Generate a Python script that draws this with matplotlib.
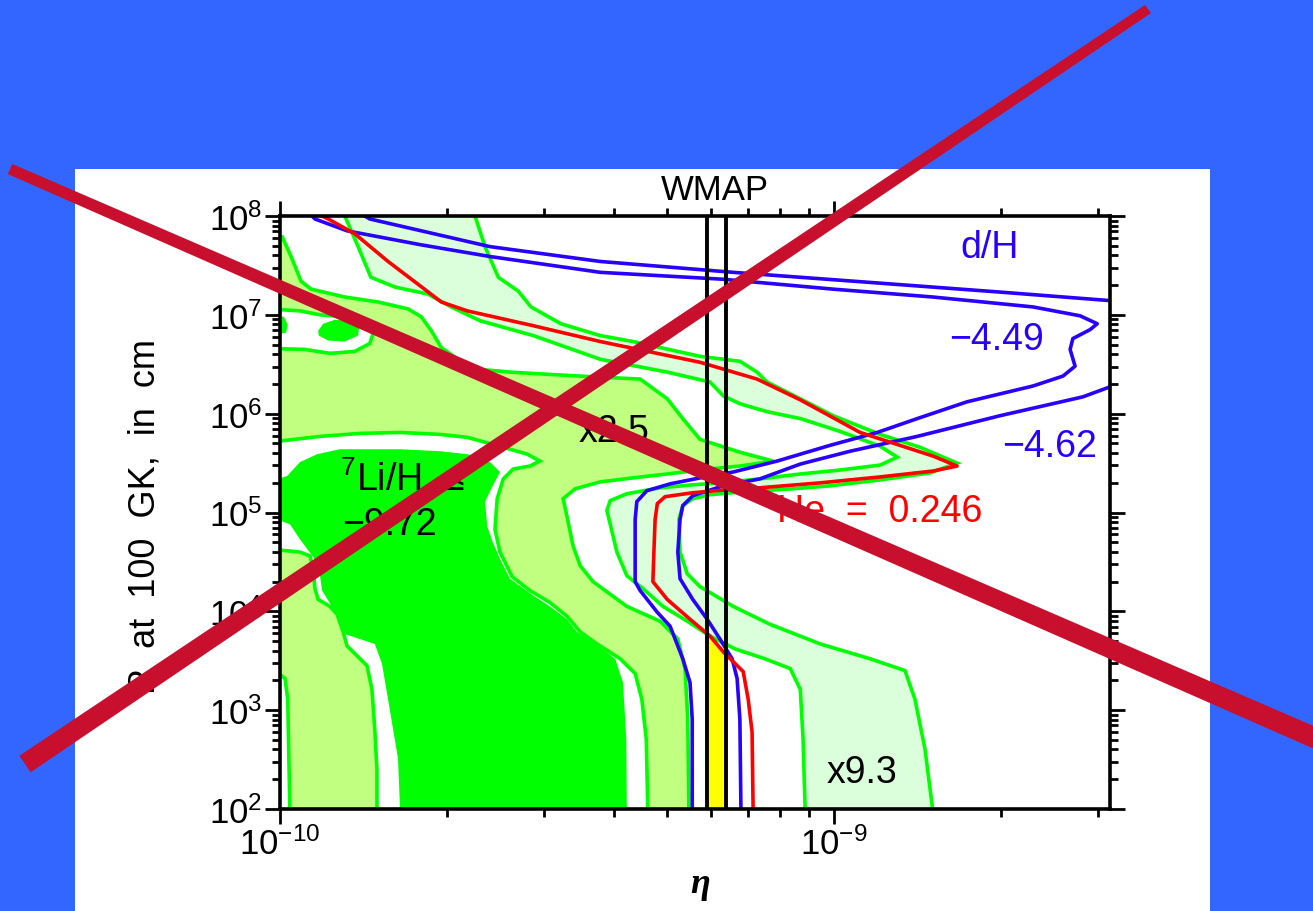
import numpy as np
import matplotlib
matplotlib.use('Agg')
import matplotlib.pyplot as plt
from matplotlib.patches import Polygon, Rectangle
from matplotlib.ticker import LogLocator, NullFormatter

plt.rcParams['font.family'] = ['Liberation Sans', 'DejaVu Sans']
plt.rcParams['mathtext.fontset'] = 'custom'
plt.rcParams['mathtext.rm'] = 'Liberation Sans'
plt.rcParams['mathtext.it'] = 'Liberation Sans:italic'
plt.rcParams['mathtext.bf'] = 'Liberation Sans:bold'
NARROW = ['Liberation Sans Narrow', 'Liberation Sans', 'DejaVu Sans']

# every contour below is given as log10(eta) and log10(R / cm)

# 7Li "x2.5" band (light green), outer edge
lg_x = [-10.02, -9.996, -9.980, -9.962, -9.944, -9.883, -9.823, -9.769, -9.745, -9.727,
        -9.709, -9.684, -9.643, -9.583, -9.522, -9.458, -9.350, -9.301, -9.273, -9.242,
        -9.170, -9.110, -9.170, -9.242, -9.301, -9.363, -9.422, -9.467, -9.489, -9.482,
        -9.471, -9.458, -9.435, -9.374, -9.314, -9.282, -9.269, -9.264, -9.262, -9.982,
        -9.984, -9.986, -9.991, -10.02]
lg_y = [7.79, 7.79, 7.59, 7.34, 7.26, 7.18, 7.13, 7.06, 6.98, 6.84,
        6.67, 6.57, 6.45, 6.42, 6.40, 6.38, 6.35, 6.15, 5.95, 5.74,
        5.61, 5.52, 5.47, 5.43, 5.39, 5.35, 5.31, 5.24, 5.14, 4.96,
        4.66, 4.46, 4.30, 4.05, 3.90, 3.72, 3.42, 2.91, 1.95, 1.95,
        2.51, 3.11, 3.32, 3.45]

# white gaps inside the x2.5 band
gap1_x = [-10.02, -9.964, -9.928, -9.883, -9.852, -9.832, -9.838, -9.865, -9.910, -9.955, -10.02]
gap1_y = [7.06, 7.04, 7.00, 6.98, 6.91, 6.81, 6.71, 6.63, 6.61, 6.65, 6.66]

gap2_x = [-10.02, -9.928, -9.856, -9.783, -9.711, -9.662, -9.603, -9.554, -9.531, -9.549,
          -9.579, -9.597, -9.608, -9.612, -9.603, -9.581, -9.549, -9.513, -9.482, -9.458,
          -9.428, -9.386, -9.359, -9.347, -9.339, -9.336, -9.825, -9.825, -9.829, -9.834,
          -9.843, -9.861, -9.879, -9.886, -9.897, -9.910, -9.931, -9.937, -9.940, -9.946,
          -9.964, -10.02]
gap2_y = [5.71, 5.77, 5.80, 5.81, 5.79, 5.76, 5.67, 5.59, 5.52, 5.47,
          5.44, 5.34, 5.14, 4.83, 4.60, 4.35, 4.21, 4.09, 3.95, 3.79,
          3.67, 3.52, 3.37, 3.11, 2.71, 1.95, 1.95, 2.40, 2.81, 3.21,
          3.45, 3.55, 3.65, 3.79, 3.97, 4.05, 4.12, 4.23, 4.43, 4.56,
          4.60, 4.63]

# 7Li/H <= -9.72 (bright green)
li_x = [-10.02, -9.987, -9.964, -9.933, -9.892, -9.783, -9.711, -9.662, -9.621, -9.603,
        -9.616, -9.630, -9.626, -9.616, -9.603, -9.585, -9.543, -9.513, -9.482, -9.464,
        -9.435, -9.395, -9.381, -9.375, -9.374, -9.783, -9.787, -9.796, -9.805, -9.816,
        -9.829, -9.883, -9.901, -9.924, -9.931, -9.964, -9.982, -10.02]
li_y = [5.31, 5.37, 5.51, 5.59, 5.64, 5.64, 5.62, 5.59, 5.51, 5.41,
        5.27, 5.11, 4.86, 4.70, 4.53, 4.33, 4.16, 4.05, 3.92, 3.79,
        3.69, 3.52, 3.28, 2.71, 1.95, 1.95, 2.51, 2.81, 3.11, 3.47,
        3.67, 3.77, 4.00, 4.21, 4.48, 4.73, 4.88, 4.96]
blob1_x = [-9.931, -9.922, -9.901, -9.874, -9.857, -9.859, -9.883, -9.913, -9.930]
blob1_y = [6.84, 6.91, 6.95, 6.94, 6.88, 6.79, 6.73, 6.74, 6.79]
blob2_x = [-10.02, -9.993, -9.986, -9.989, -10.02]
blob2_y = [7.00, 6.98, 6.90, 6.82, 6.79]

# 7Li "x9.3" band (very light green)
vlg_x = [-9.883, -9.883, -9.859, -9.836, -9.792, -9.733, -9.691, -9.639, -9.543, -9.422,
         -9.301, -9.224, -9.200, -9.170, -9.121, -9.061, -8.989, -8.917, -8.886, -8.917,
         -8.989, -9.061, -9.134, -9.206, -9.255, -9.314, -9.374, -9.404, -9.410, -9.404,
         -9.392, -9.374, -9.345, -9.309, -9.265, -9.224, -9.179, -9.125, -9.079, -9.061,
         -9.056, -9.052, -8.821, -8.836, -8.854, -8.872, -8.935, -9.025, -9.116, -9.182,
         -9.242, -9.265, -9.278, -9.280, -9.273, -9.255, -9.224, -9.164, -9.074, -9.007,
         -8.917, -8.827, -8.778, -8.845, -8.917, -9.002, -9.061, -9.121, -9.139, -9.170,
         -9.242, -9.363, -9.422, -9.493, -9.547, -9.570, -9.606, -9.630, -9.648, -9.648]
vlg_y = [8.05, 8.00, 7.69, 7.38, 7.28, 7.21, 7.08, 6.94, 6.79, 6.55,
         6.42, 6.32, 6.18, 6.10, 6.02, 5.95, 5.82, 5.67, 5.56, 5.48,
         5.43, 5.39, 5.34, 5.30, 5.28, 5.25, 5.19, 5.12, 5.02, 4.88,
         4.60, 4.36, 4.23, 4.05, 3.90, 3.75, 3.62, 3.52, 3.42, 3.21,
         2.71, 1.95, 1.95, 2.61, 3.11, 3.40, 3.52, 3.67, 3.87, 4.05,
         4.25, 4.38, 4.60, 4.93, 5.07, 5.14, 5.18, 5.21, 5.24, 5.27,
         5.33, 5.40, 5.50, 5.66, 5.79, 5.98, 6.15, 6.32, 6.42, 6.53,
         6.58, 6.73, 6.79, 6.91, 7.08, 7.24, 7.38, 7.69, 8.00, 8.05]

# He mass fraction 0.246 contour
he_x = [-9.924, -9.913, -9.865, -9.805, -9.751, -9.709, -9.662, -9.543, -9.422, -9.242,
        -9.139, -9.061, -8.953, -8.821, -8.778, -8.821, -8.917, -9.025, -9.134, -9.193,
        -9.255, -9.305, -9.319, -9.323, -9.325, -9.327, -9.301, -9.260, -9.224, -9.200,
        -9.164, -9.155, -9.148, -9.146]
he_y = [8.00, 7.97, 7.82, 7.54, 7.31, 7.13, 7.04, 6.89, 6.73, 6.52,
        6.35, 6.14, 5.81, 5.57, 5.47, 5.42, 5.36, 5.30, 5.25, 5.23,
        5.20, 5.16, 5.09, 4.93, 4.63, 4.30, 4.12, 3.92, 3.75, 3.59,
        3.39, 3.11, 2.78, 1.95]

# d/H = 10^-4.49 contour
dh449_x = [-9.942, -9.937, -9.879, -9.747, -9.621, -9.422, -9.200, -9.002, -8.821, -8.641,
           -8.556, -8.525, -8.538, -8.569, -8.574, -8.565, -8.587, -8.641, -8.760, -8.850,
           -8.922, -9.007, -9.103, -9.182, -9.242, -9.296, -9.338, -9.356, -9.359, -9.359,
           -9.350, -9.319, -9.296, -9.273, -9.260, -9.256, -9.256]
dh449_y = [8.00, 7.97, 7.85, 7.71, 7.59, 7.43, 7.36, 7.26, 7.18, 7.08,
           6.99, 6.91, 6.85, 6.76, 6.65, 6.48, 6.38, 6.28, 6.12, 5.95,
           5.81, 5.68, 5.52, 5.41, 5.35, 5.29, 5.22, 5.11, 4.93, 4.30,
           4.21, 3.99, 3.85, 3.52, 3.28, 2.91, 1.95]

# d/H = 10^-4.62 contour (two pieces)
dh462a_x = [-8.493, -8.551, -8.700, -8.850, -8.971, -9.061, -9.134, -9.200, -9.255, -9.273,
            -9.278, -9.282, -9.278, -9.255, -9.229, -9.206, -9.184, -9.175, -9.170, -9.168]
dh462a_y = [6.29, 6.17, 5.98, 5.77, 5.62, 5.49, 5.34, 5.27, 5.17, 5.07,
            4.93, 4.60, 4.33, 4.12, 3.92, 3.72, 3.52, 3.32, 2.91, 1.95]
dh462b_x = [-9.847, -9.838, -9.621, -9.422, -9.182, -8.940, -8.700, -8.493]
dh462b_y = [8.00, 7.97, 7.69, 7.54, 7.43, 7.33, 7.23, 7.14]

# WMAP eta range and the top of the allowed (yellow) strip, log10 R
wmap_eta = [5.89e-10, 6.39e-10]
allowed_top = [3.77, 3.57]

C_LG, C_BG, C_VLG = '#C0FF80', '#00FF00', '#DAFFDA'
C_BLUE, C_RED = '#2800FF', '#FF0000'


def pts(lx, ly):
    return np.column_stack([10.0 ** np.array(lx), 10.0 ** np.array(ly)])


W, H = 1313.0, 912.0
fig = plt.figure(figsize=(13.13, 9.12), dpi=100, facecolor='#3366FF')
fig.add_artist(Rectangle((75 / W, 0), 1135 / W, 742 / H, transform=fig.transFigure,
                         facecolor='white', edgecolor='none', zorder=-1))

ax = fig.add_axes([280 / W, 1 - 810 / H, 830 / W, 593 / H])
ax.set_xscale('log')
ax.set_yscale('log')
ax.set_xlim(1e-10, 10 ** -8.502)
ax.set_ylim(1e2, 1e8)

lw = 2.6
ax.add_patch(Polygon(pts(lg_x, lg_y), facecolor=C_LG, edgecolor=C_BG, lw=lw, zorder=1))
for gx, gy in [(gap1_x, gap1_y), (gap2_x, gap2_y)]:
    ax.add_patch(Polygon(pts(gx, gy), facecolor='white', edgecolor=C_BG, lw=lw, zorder=1.1))
for bx, by in [(li_x, li_y), (blob1_x, blob1_y), (blob2_x, blob2_y)]:
    ax.add_patch(Polygon(pts(bx, by), facecolor=C_BG, edgecolor='none', zorder=1.2))
ax.add_patch(Polygon(pts(vlg_x, vlg_y), facecolor=C_VLG, edgecolor=C_BG, lw=lw, zorder=1.3))

# allowed strip between the WMAP limits
ax.add_patch(Polygon(pts(np.log10([wmap_eta[0], wmap_eta[0], wmap_eta[1], wmap_eta[1]]),
                         [1.9, allowed_top[0], allowed_top[1], 1.9]),
                     facecolor='#FFFF00', edgecolor='none', zorder=1.4))

for cx, cy in [(dh449_x, dh449_y), (dh462a_x, dh462a_y), (dh462b_x, dh462b_y)]:
    ax.plot(10.0 ** np.array(cx), 10.0 ** np.array(cy), color=C_BLUE, lw=2.6, zorder=2)
ax.plot(10.0 ** np.array(he_x), 10.0 ** np.array(he_y), color=C_RED, lw=2.6, zorder=2.1)

for e in wmap_eta:
    ax.axvline(e, color='black', lw=2.8, zorder=2.3)

# axes styling
for s in ax.spines.values():
    s.set_linewidth(2.6)
    s.set_zorder(3)
ax.xaxis.set_minor_locator(LogLocator(base=10, subs=np.arange(2, 10), numticks=100))
ax.yaxis.set_minor_locator(LogLocator(base=10, subs=np.arange(2, 10), numticks=100))
ax.xaxis.set_minor_formatter(NullFormatter())
ax.yaxis.set_minor_formatter(NullFormatter())
ax.tick_params(which='both', direction='out', top=True, right=True,
               labeltop=False, labelright=False, width=2.0)
ax.tick_params(which='major', length=10.5, labelsize=25, pad=2,
               labelfontfamily=NARROW)
ax.tick_params(which='minor', length=5.5)

# labels
tx = dict(transform=ax.transAxes, ha='center', va='center', fontsize=27, zorder=5)
ax.text(0.855, 0.948, 'd/H', color=C_BLUE, **tx)
ax.text(0.863, 0.793, '\u22124.49', color=C_BLUE, **tx)
ax.text(0.927, 0.612, '\u22124.62', color=C_BLUE, **tx)
ax.text(0.402, 0.637, 'x2.5', color='black', **tx)
ax.text(0.701, 0.062, 'x9.3', color='black', **tx)
ax.text(0.723, 0.503, 'He  =  0.246', color=C_RED, **tx)
ax.text(0.072, 0.556, '$^{7}$Li/H  \u2264', transform=ax.transAxes, ha='left',
        va='center', fontsize=27, zorder=5)
ax.text(0.075, 0.481, '\u22129.72', transform=ax.transAxes, ha='left',
        va='center', fontsize=27, zorder=5)

fig.text(715 / W, 1 - 190 / H, 'WMAP', ha='center', va='center', fontsize=25,
         family=NARROW)
fig.text(145 / W, 1 - 516 / H, 'R  at  100  GK,  in  cm', rotation=90, ha='center',
         va='center', fontsize=26)
fig.text(700 / W, 1 - 885 / H, '\u03b7', ha='center', va='center', fontsize=26,
         family=['Liberation Serif', 'DejaVu Serif'], style='italic', weight='bold')


# the big red cross drawn over the slide, tapered strokes (pixel coords)
def stroke(p0, p1, w0, w1):
    p0, p1 = np.array(p0, float), np.array(p1, float)
    d = (p1 - p0) / np.hypot(*(p1 - p0))
    n = np.array([-d[1], d[0]])
    quad = [p0 + n * w0 / 2, p1 + n * w1 / 2, p1 - n * w1 / 2, p0 - n * w0 / 2]
    quad = [(q[0] / W, 1 - q[1] / H) for q in quad]
    fig.add_artist(Polygon(quad, closed=True, transform=fig.transFigure,
                           facecolor='#C80F2D', edgecolor='none', zorder=10))


stroke((10, 170), (1345, 752), 11, 21)
stroke((25, 765), (1148, 10), 20, 10)

fig.savefig('out.png', dpi=100, facecolor=fig.get_facecolor())
